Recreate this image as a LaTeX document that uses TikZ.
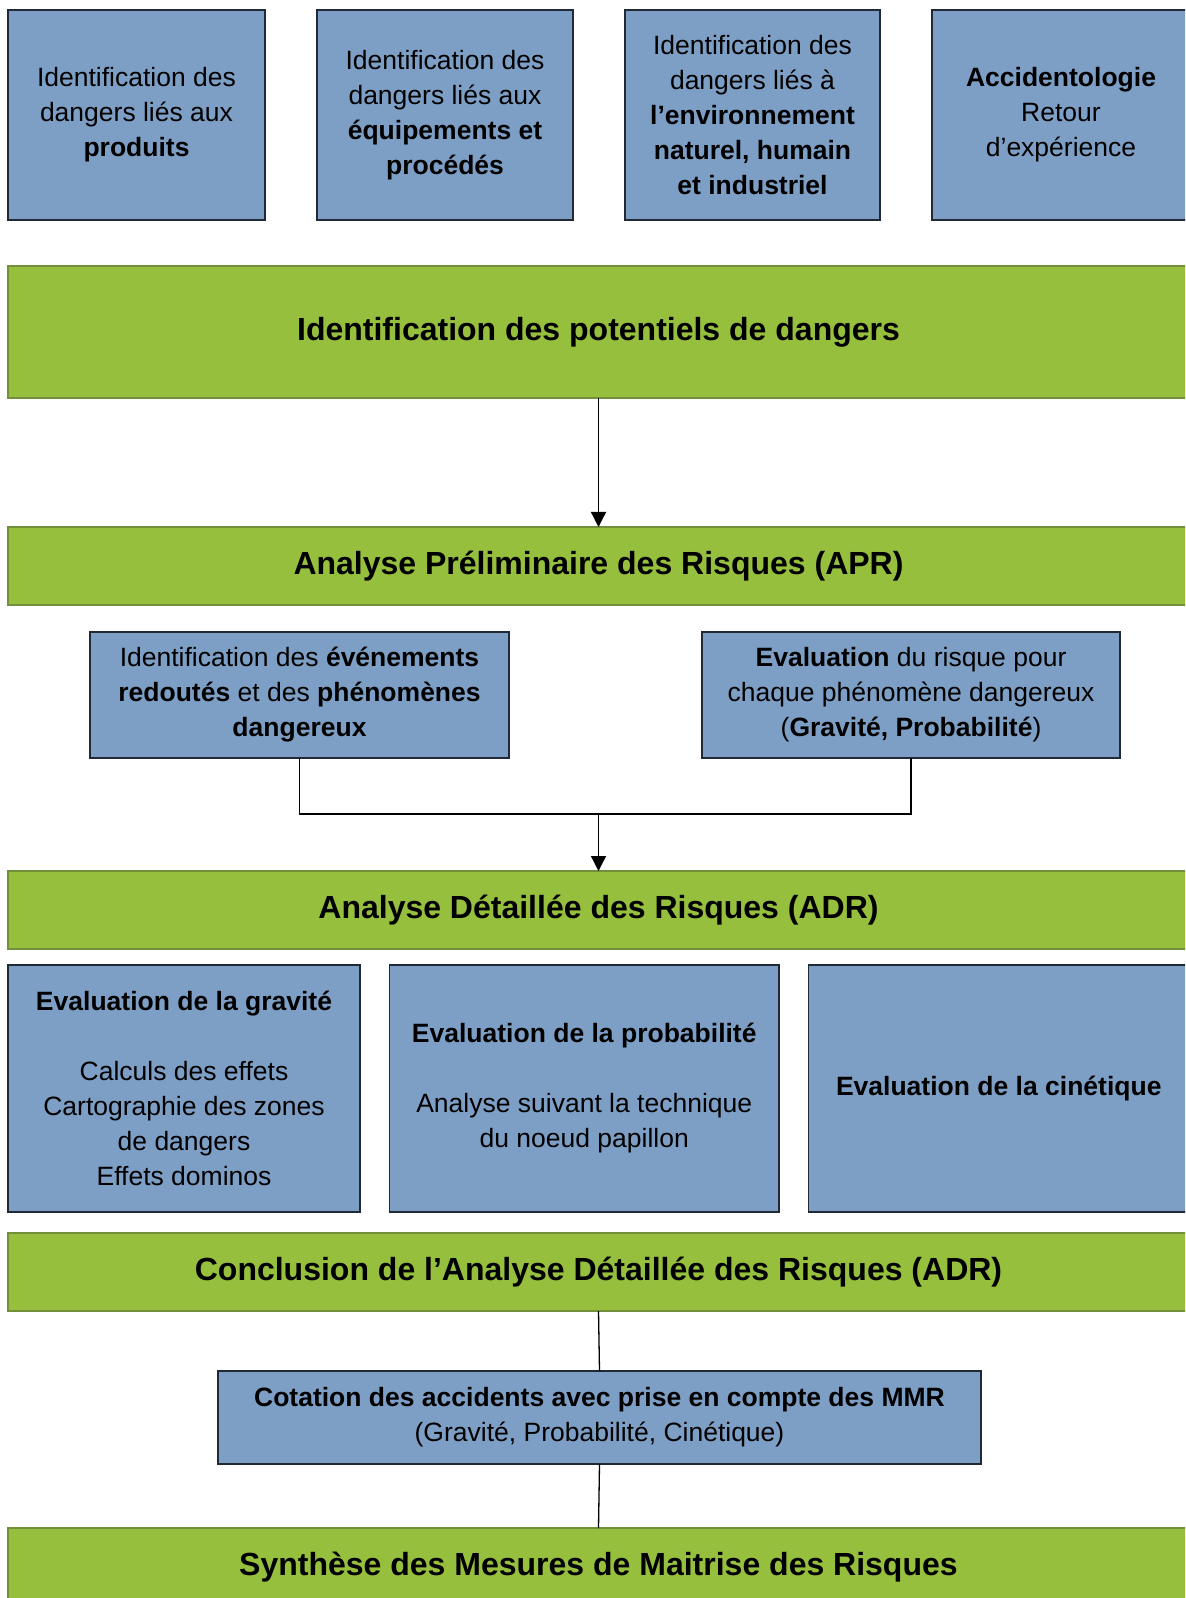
\documentclass[tikz,border=0pt]{standalone}
\usepackage{fontspec}
\setmainfont{Liberation Sans}
\usetikzlibrary{arrows.meta}
\definecolor{boxblue}{HTML}{7E9FC5}
\definecolor{boxgreen}{HTML}{96BF3E}
\definecolor{greenline}{HTML}{72903A}
\definecolor{blueline}{HTML}{1F2A36}
\tikzset{
  bluebox/.style={draw=blueline, fill=boxblue, line width=0.75pt, inner sep=0pt, outer sep=0pt,
    align=center, font=\fontsize{13.25pt}{17.5pt}\selectfont},
  greenbox/.style={draw=greenline, fill=boxgreen, line width=1.3pt, inner sep=0pt, outer sep=0pt,
    align=center, font=\fontsize{16pt}{19pt}\selectfont\bfseries, minimum width=590.5pt},
  conn/.style={draw=black, line width=0.65pt},
  arrowconn/.style={conn, -{Triangle[width=7.5pt,length=7.5pt]}}
}
\begin{document}
\begin{tikzpicture}[x=0.5pt,y=-0.5pt]
\useasboundingbox (0,0) rectangle (1185,1598);
\clip (0,0) rectangle (1185,1598);
% top boxes
\node[bluebox, minimum width=128.5pt, minimum height=105pt] (b1) at (136.5,115)
  {Identification des\\dangers liés aux\\\textbf{produits}};
\node[bluebox, minimum width=128pt, minimum height=105pt] (b2) at (445,115)
  {Identification des\\dangers liés aux\\\textbf{équipements et}\\\textbf{procédés}};
\node[bluebox, minimum width=127.5pt, minimum height=105pt] (b3) at (752.5,115)
  {Identification des\\dangers liés à\\\textbf{l’environnement}\\\textbf{naturel, humain}\\\textbf{et industriel}};
\node[bluebox, minimum width=129pt, minimum height=105pt] (b4) at (1061,115)
  {\textbf{Accidentologie}\\Retour\\d’expérience};
% green 1
\node[greenbox, minimum height=66pt] (g1) at (598.5,332) {Identification des potentiels de dangers};
\node[greenbox, minimum height=39pt] (g2) at (598.5,566) {Analyse Préliminaire des Risques (APR)};
% APR boxes
\node[bluebox, minimum width=209.5pt, minimum height=63pt] (e1) at (299.5,695)
  {Identification des \textbf{événements}\\\textbf{redoutés} et des \textbf{phénomènes}\\\textbf{dangereux}};
\node[bluebox, minimum width=209pt, minimum height=63pt] (e2) at (911,695)
  {\textbf{Evaluation} du risque pour\\chaque phénomène dangereux\\(\textbf{Gravité, Probabilité})};
\node[greenbox, minimum height=39pt] (g3) at (598.5,910) {Analyse Détaillée des Risques (ADR)};
% ADR boxes
\node[bluebox, minimum width=176pt, minimum height=123.5pt] (ba) at (184,1088.5)
  {\textbf{Evaluation de la gravité}\\[17.5pt]Calculs des effets\\Cartographie des zones\\de dangers\\Effets dominos};
\node[bluebox, minimum width=194.75pt, minimum height=123.5pt] (bb) at (584.25,1088.5)
  {\textbf{Evaluation de la probabilité}\\[17.5pt]Analyse suivant la technique\\du noeud papillon};
\node[bluebox, minimum width=190.25pt, minimum height=123.5pt] (bc) at (998.75,1088.5)
  {\textbf{Evaluation de la cinétique}};
\node[greenbox, minimum height=39pt] (g4) at (598.5,1272) {Conclusion de l’Analyse Détaillée des Risques (ADR)};
\node[bluebox, minimum width=381.5pt, minimum height=46.5pt] (cot) at (599.5,1417.5)
  {\textbf{Cotation des accidents avec prise en compte des MMR}\\(Gravité, Probabilité, Cinétique)};
\node[greenbox, minimum height=39pt] (g5) at (598.5,1567) {Synthèse des Mesures de Maitrise des Risques};
% connectors
\coordinate (m) at (598.5,814);
\draw[arrowconn] (g1.south) -- (g2.north);
\draw[conn] (e1.south) |- (m);
\draw[conn] (e2.south) |- (m);
\draw[arrowconn] (m) -- (g3.north);
\draw[conn] (g4.south) -- (cot.north);
\draw[conn] (cot.south) -- (g5.north);
\end{tikzpicture}
\end{document}
